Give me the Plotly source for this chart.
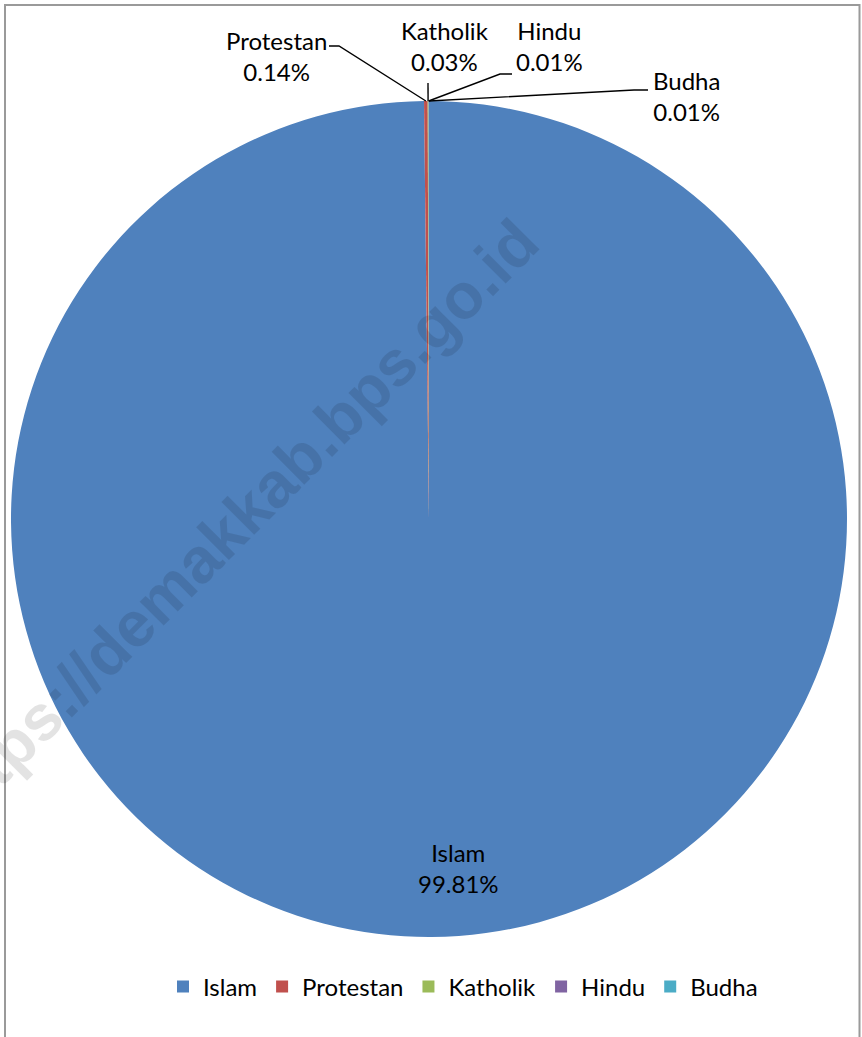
import math
import plotly.graph_objects as go

# ---- data ----
religions = ["Islam", "Protestan", "Katholik", "Hindu", "Budha"]
shares = [99.81, 0.14, 0.03, 0.01, 0.01]
pct_labels = ["99.81%", "0.14%", "0.03%", "0.01%", "0.01%"]
colors = ["#4F81BD", "#C0504D", "#9BBB59", "#8064A2", "#4BACC6"]

W, H = 862, 1037
FONT = "Lato"
FS = 24

# pie geometry (pixels)
CX, CY, R = 429, 519, 418

def px(x):
    return x / W

def py(y):
    return 1 - y / H

fig = go.Figure(go.Pie(
    labels=religions,
    values=shares,
    marker=dict(colors=colors, line=dict(width=0)),
    sort=False,
    direction="clockwise",
    rotation=0,
    textinfo="none",
    hoverinfo="label+percent",
    domain=dict(x=[px(CX - R), px(CX + R)], y=[py(CY + R), py(CY - R)]),
))

# label anchor positions (text block centres, px) and leader elbows
label_pos = {
    "Islam": (458, 868),
    "Protestan": (276, 56),
    "Katholik": (445, 46),
    "Hindu": (549, 46),
    "Budha": (686, 96),
}
elbows = {
    "Protestan": [(329, 46), (339, 46)],
    "Katholik": [(428, 83)],
    "Hindu": [(512, 74), (500, 74)],
    "Budha": [(648, 90), (634, 90)],
}

annotations = []
shapes = []
total = sum(shares)
cum = 0.0
for name, v, pl in zip(religions, shares, pct_labels):
    mid = (cum + v / 2) / total * 2 * math.pi
    cum += v
    x, y = label_pos[name]
    annotations.append(dict(
        x=px(x), y=py(y), xref="paper", yref="paper",
        text=f"{name}<br>{pl}", showarrow=False,
        font=dict(family=FONT, size=FS, color="#000000"),
        xanchor="center", yanchor="middle", align="center",
    ))
    if name in elbows:
        ex = CX + R * math.sin(mid)
        ey = CY - R * math.cos(mid)
        pts = elbows[name] + [(ex, ey)]
        path = "M " + " L ".join(f"{px(a)},{py(b)}" for a, b in pts)
        shapes.append(dict(type="path", path=path, xref="paper", yref="paper",
                           line=dict(color="#000000", width=1.4)))

# watermark
annotations.append(dict(
    x=px(234), y=py(524), xref="paper", yref="paper",
    text="<b>https://demakkab.bps.go.id</b>", showarrow=False, textangle=-45,
    font=dict(family="Liberation Sans", size=64, color="rgba(0,0,0,0.11)"),
    xanchor="center", yanchor="middle",
))

# chart border
shapes.append(dict(type="rect", xref="paper", yref="paper",
                   x0=px(5), x1=px(859.5), y0=py(1045), y1=py(5),
                   line=dict(color="#9A9A9A", width=2)))

fig.update_layout(
    width=W, height=H,
    margin=dict(l=0, r=0, t=0, b=0),
    paper_bgcolor="white",
    font=dict(family=FONT, size=FS, color="#000000"),
    showlegend=True,
    legend=dict(orientation="h", x=px(463), xanchor="center",
                y=py(987), yanchor="middle",
                font=dict(family=FONT, size=FS), traceorder="normal"),
    annotations=annotations,
    shapes=shapes,
)

fig.write_html("out.html", config={"displayModeBar": False},
               post_script="document.body.style.margin='0';document.body.style.overflow='hidden';")
